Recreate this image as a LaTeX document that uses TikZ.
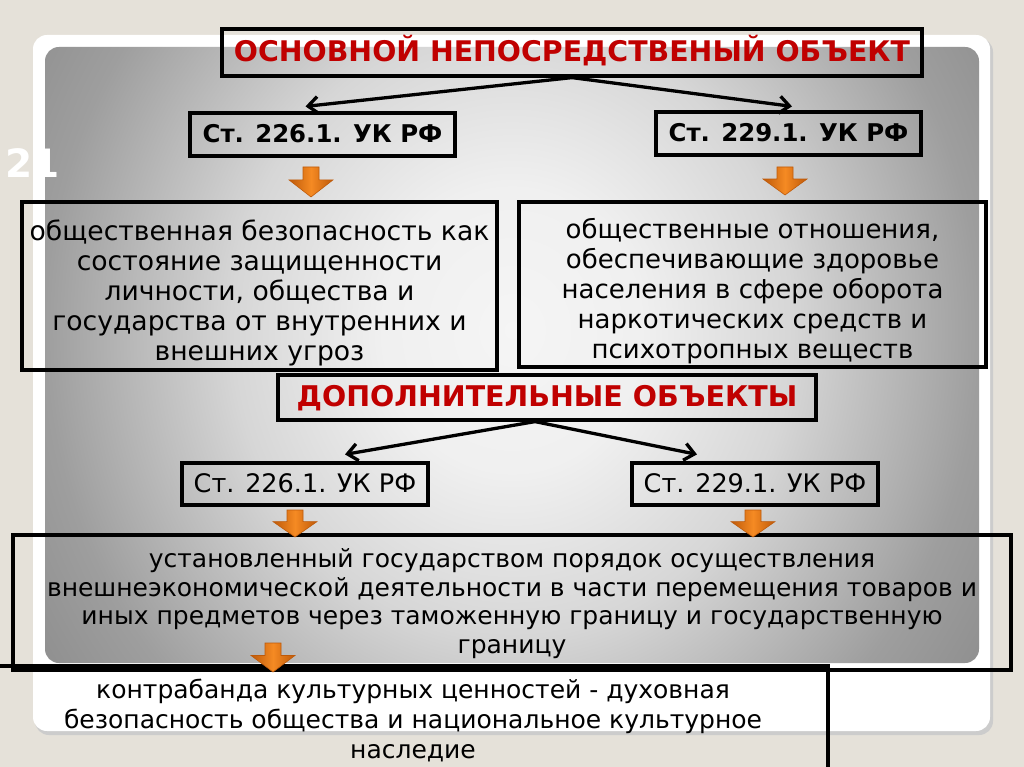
\documentclass[tikz,border=0pt]{standalone}
\usepackage{fontspec}
\setmainfont{DejaVu Sans}
\usetikzlibrary{arrows.meta,calc}
\definecolor{bgbeige}{RGB}{229,225,217}
\definecolor{titlered}{RGB}{192,0,0}
\definecolor{orlight}{RGB}{245,138,35}
\definecolor{ordark}{RGB}{190,90,10}
\pgfdeclareradialshading{panelshade}{\pgfpointorigin}{color(0bp)=(white!96!black); color(7bp)=(white!94!black); color(15bp)=(white!84!black); color(25bp)=(white!62!black); color(31bp)=(white!55!black); color(40bp)=(white!55!black)}
\newcommand\orarr[3]{\path[orarrow] (#1-8,#2) -- (#1+8,#2) -- (#1+8,{#2+0.43*(#3-#2)}) -- (#1+22,{#2+0.43*(#3-#2)}) -- (#1,#3) -- (#1-22,{#2+0.43*(#3-#2)}) -- (#1-8,{#2+0.43*(#3-#2)}) -- cycle;}
\newcommand\mltext[2]{\raisebox{-#1}[\height][\depth]{\begin{tabular}{@{}c@{}}#2\end{tabular}}}
\begin{document}
\begin{tikzpicture}[x=1pt,y=-1pt,
  box/.style={draw=black, line width=3.2pt, inner sep=0pt, align=center},
  redtitle/.style={box, text=titlered, text height=20.7pt, text depth=2.8pt, font=\fontsize{28.4}{32}\selectfont\bfseries},
  artbold/.style={box, text height=17.8pt, text depth=2.4pt, font=\fontsize{24.4}{28}\selectfont\bfseries},
  artreg/.style={box, text height=18.6pt, text depth=2.6pt, font=\fontsize{25.5}{28}\selectfont},
  conn/.style={line width=3.3pt, -{Straight Barb[length=10pt,width=17pt]}},
  orarrow/.style={left color=ordark, right color=ordark, middle color=orlight, draw=ordark, line width=0.6pt}]
\useasboundingbox (0,0) rectangle (1024,767);
\fill[bgbeige] (0,0) rectangle (1024,767);
% slide frame
\fill[black!20, rounded corners=14pt] (35,38) rectangle (993,735);
\fill[white, rounded corners=14pt] (33,35) rectangle (990,731);
\begin{scope}
  \clip[rounded corners=14pt] (45,47) rectangle (979,663);
  \shade[shading=panelshade] (45,-180) rectangle (979,840);
\end{scope}
\node[anchor=base west, text=white, font=\fontsize{39}{39}\selectfont\bfseries] (num) at (2,178) {21};

% nodes
\node[redtitle, minimum width=700pt, minimum height=47pt] (t1) at (572,52.5) {ОСНОВНОЙ НЕПОСРЕДСТВЕНЫЙ ОБЪЕКТ};
\node[artbold, minimum width=265pt, minimum height=43pt] (a1) at (322.5,134.5) {Ст. 226.1. УК РФ};
\node[artbold, minimum width=265pt, minimum height=43pt] (a2) at (788.5,133.5) {Ст. 229.1. УК РФ};
\node[box, font=\fontsize{26.6}{30}\selectfont, minimum width=475pt, minimum height=168pt] (d1) at (259.5,286) {\mltext{8pt}{общественная безопасность как\\состояние защищенности\\личности, общества и\\государства от внутренних и\\внешних угроз}};
\node[box, font=\fontsize{26}{30}\selectfont, minimum width=467pt, minimum height=165pt] (d2) at (752.5,284.5) {\mltext{7.5pt}{общественные отношения,\\обеспечивающие здоровье\\населения в сфере оборота\\наркотических средств и\\психотропных веществ}};
\node[redtitle, text height=20.8pt, text depth=2.9pt, font=\fontsize{28.5}{32}\selectfont\bfseries, minimum width=538pt, minimum height=45pt] (t2) at (547,397.5) {ДОПОЛНИТЕЛЬНЫЕ ОБЪЕКТЫ};
\node[artreg, minimum width=246pt, minimum height=42pt] (b1) at (305,484) {Ст. 226.1. УК РФ};
\node[artreg, minimum width=246pt, minimum height=42pt] (b2) at (755,484) {Ст. 229.1. УК РФ};
\node[box, font=\fontsize{25}{28.5}\selectfont, minimum width=998pt, minimum height=135pt] (e1) at (512,602.5) {\mltext{2.3pt}{установленный государством порядок осуществления\\внешнеэкономической деятельности в части перемещения товаров и\\иных предметов через таможенную границу и государственную\\границу}};
\node[box, font=\fontsize{25}{30}\selectfont, minimum width=830pt, minimum height=110pt] (e2) at (413,721) {\mltext{1pt}{контрабанда культурных ценностей - духовная\\безопасность общества и национальное культурное\\наследие}};

% connectors
\draw[conn] (t1.south) -- ([xshift=-17pt,yshift=5pt]a1.north);
\draw[conn] (t1.south) -- ([xshift=3.5pt,yshift=4pt]a2.north);
\draw[conn] ([xshift=-12pt]t2.south) -- ([xshift=40pt,yshift=7pt]b1.north);
\draw[conn] ([xshift=-12pt]t2.south) -- ([xshift=-58pt,yshift=7pt]b2.north);

% orange block arrows
\orarr{311}{167}{197}
\orarr{785}{167}{195}
\orarr{295}{510}{537}
\orarr{753}{510}{537}
\orarr{273}{643}{672}
\end{tikzpicture}
\end{document}
